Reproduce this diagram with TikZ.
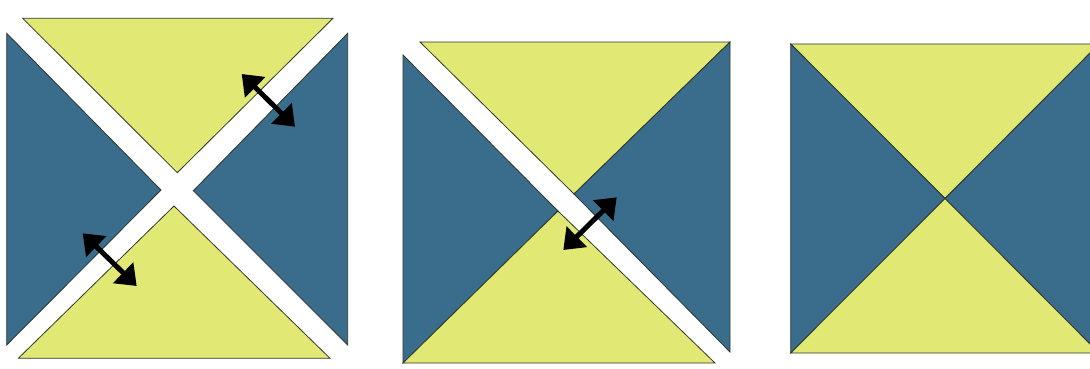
\documentclass[tikz,border=0pt]{standalone}
\usetikzlibrary{arrows.meta}
\definecolor{ylw}{RGB}{226,232,116}
\definecolor{blu}{RGB}{58,108,140}
\definecolor{edge}{RGB}{45,55,45}
\tikzset{
  yt/.style={fill=ylw,draw=edge,line width=0.8pt,line join=miter},
  bt/.style={fill=blu,draw=edge,line width=0.8pt,line join=miter},
  dbl/.style={line width=5pt,{Triangle[length=19pt,width=28pt]}-{Triangle[length=19pt,width=28pt]},black}
}
\begin{document}
\begin{tikzpicture}[x=1pt,y=-1pt]
\useasboundingbox (0,0) rectangle (1090,368);
\clip (0,0) rectangle (1090,368);
\fill[white] (0,0) rectangle (1090,368);
% Panel 1
\draw[yt] (22.7,18.3) -- (333,18.3) -- (177.3,172.7) -- cycle;
\draw[bt] (6.7,33.3) -- (161,190) -- (6.7,345) -- cycle;
\draw[bt] (347.7,33.3) -- (347.7,345) -- (193.3,190.7) -- cycle;
\draw[yt] (18.3,358.3) -- (174,206) -- (330,358.3) -- cycle;
\coordinate (a1) at (241.7,74);
\coordinate (a2) at (295,126.7);
\coordinate (b1) at (82.7,233.3);
\coordinate (b2) at (136.7,286);
\draw[dbl] (a1) -- (a2);
\draw[dbl] (b1) -- (b2);
% Panel 2
\draw[yt] (420,42) -- (730,42) -- (574,194) -- cycle;
\draw[bt] (730,42) -- (730,352) -- (574,194) -- cycle;
\draw[bt] (403,55) -- (558,211) -- (403,363) -- cycle;
\draw[yt] (403,363) -- (715,363) -- (558,211) -- cycle;
\coordinate (c1) at (616.7,197.3);
\coordinate (c2) at (563.3,250);
\draw[dbl] (c1) -- (c2);
% Panel 3
\coordinate (tl) at (790.7,44);
\coordinate (tr) at (1099,44);
\coordinate (br) at (1099,353);
\coordinate (bl) at (790.7,353);
\coordinate (cc) at (945,198.5);
\draw[yt] (tl) -- (tr) -- (cc) -- cycle;
\draw[bt] (tr) -- (br) -- (cc) -- cycle;
\draw[bt] (tl) -- (cc) -- (bl) -- cycle;
\draw[yt] (bl) -- (br) -- (cc) -- cycle;
\end{tikzpicture}
\end{document}
